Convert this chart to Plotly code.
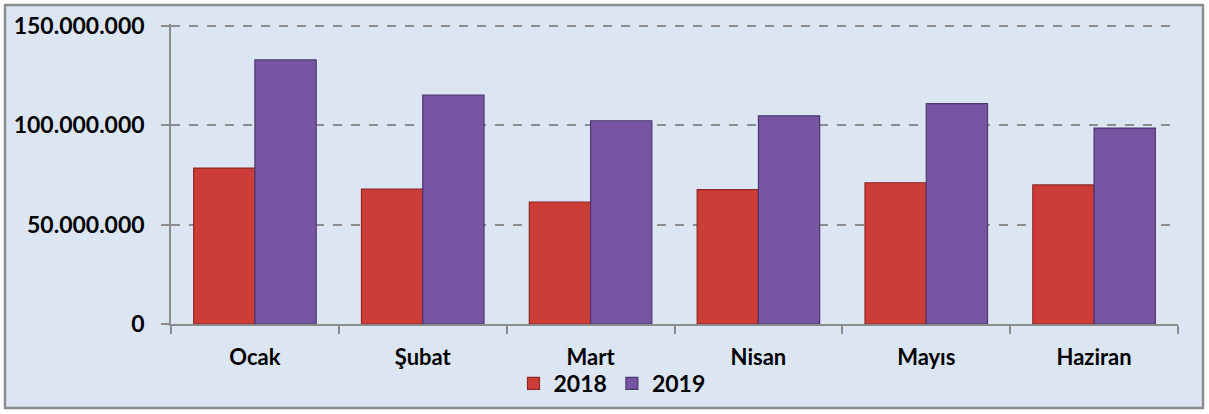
import plotly.graph_objects as go

months = ["Ocak", "Şubat", "Mart", "Nisan", "Mayıs", "Haziran"]
values_2018 = [78500000, 67900000, 61400000, 67600000, 71100000, 70000000]
values_2019 = [132900000, 115200000, 102300000, 104800000, 110900000, 98600000]
y_ticks = [0, 50000000, 100000000, 150000000]

FONT = "Lato"
Y_MAX = 151000000
PLOT_T, PLOT_B, PLOT_L, PLOT_R = 24, 90, 171, 31
H, W = 414, 1209
plot_h = H - PLOT_T - PLOT_B
plot_w = W - PLOT_L - PLOT_R


def px_to_paper_y(py):
    return (H - PLOT_B - py) / plot_h


def px_to_paper_x(px):
    return (px - PLOT_L) / plot_w


fig = go.Figure()
fig.add_trace(go.Bar(
    name="2018", x=months, y=values_2018,
    marker=dict(color="#CD3D38", line=dict(color="#8E2724", width=1.2)),
))
fig.add_trace(go.Bar(
    name="2019", x=months, y=values_2019,
    marker=dict(color="#7855A3", line=dict(color="#4C3670", width=1.2)),
))

fig.add_shape(type="rect", xref="paper", yref="paper",
              x0=px_to_paper_x(5), x1=px_to_paper_x(1203),
              y0=px_to_paper_y(408), y1=px_to_paper_y(5),
              fillcolor="#DCE6F2", line=dict(color="#8C8C8C", width=2.5),
              layer="below")

fig.update_layout(
    width=W, height=H,
    margin=dict(l=PLOT_L, r=PLOT_R, t=PLOT_T, b=PLOT_B, autoexpand=False),
    paper_bgcolor="white",
    plot_bgcolor="rgba(0,0,0,0)",
    barmode="group", bargap=0.27, bargroupgap=0,
    separators=",.",
    font=dict(family=FONT, color="black"),
    showlegend=True,
    legend=dict(orientation="h", x=px_to_paper_x(612), xanchor="center",
                y=px_to_paper_y(362), yanchor="top",
                font=dict(family=FONT, size=23, color="black", weight="bold"),
                bgcolor="rgba(0,0,0,0)", itemwidth=30, tracegroupgap=0),
    xaxis=dict(
        type="category", tickson="boundaries", ticks="outside", ticklen=8,
        tickcolor="#8C8C8C", tickwidth=1.5,
        showline=True, linecolor="#8C8C8C", linewidth=1.5,
        showgrid=False, automargin=False,
        tickfont=dict(family=FONT, size=22, color="black", weight="bold"),
        ticklabelstandoff=13,
    ),
    yaxis=dict(
        range=[0, Y_MAX], tickvals=y_ticks, tickformat=",d",
        ticks="outside", ticklen=8, tickcolor="#8C8C8C", tickwidth=1.5,
        showline=True, linecolor="#8C8C8C", linewidth=1.5,
        showgrid=True, gridcolor="#8C8C8C", griddash="dash", gridwidth=1.5,
        zeroline=False, automargin=False,
        tickfont=dict(family=FONT, size=23, color="black", weight="bold"),
        ticklabelstandoff=12,
    ),
)

fig.write_html("out.html", config={"displayModeBar": False},
               post_script="document.body.style.margin='0';")
